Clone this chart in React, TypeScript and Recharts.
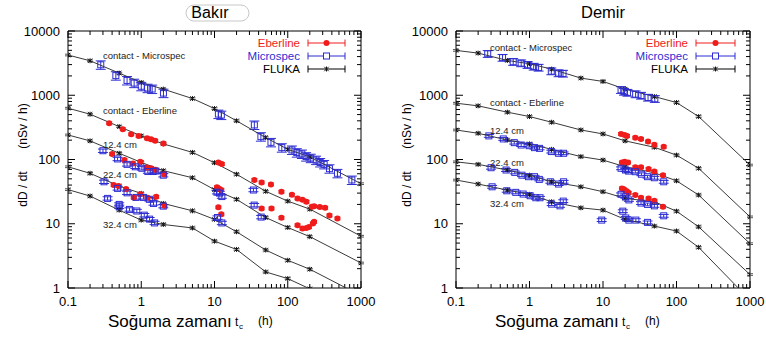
import React from 'react'
import { ScatterChart, Scatter, XAxis, YAxis, ErrorBar, ReferenceArea } from 'recharts'

// FLUKA hesap zamanlari (h)
const flukaT = [0.1, 0.2, 0.5, 1, 2, 5, 10, 20, 50, 100, 200, 1000]

// ---- Bakır ----
const cuFlukaContactMs = [4230, 3440, 2210, 1580, 1245, 889, 620, 400, 219, 144, 110, 42]
const cuFlukaContactEb = [629, 507, 325, 233, 175, 129, 89, 59, 32, 22.5, 16.9, 6.4]
const cuFluka124 = [241, 195, 125, 90, 67, 52, 34, 24, 12.5, 8.75, 6.3, 2.45]
const cuFluka224 = [77, 61, 38.6, 29.7, 20.7, 15.9, 11.7, 7.5, 3.9, 2.7, 1.96, 0.76]
const cuFluka324 = [34, 27, 16.3, 11.4, 9.75, 8.6, 5.36, 3.98, 1.78, 1.4, 0.97, 0.4]

const cuEbContactT = [0.365, 0.56, 0.73, 0.92, 1.2, 1.36, 1.55, 2.01, 11.3, 12.6, 35, 44, 59, 82, 114, 136, 159, 180, 213, 229, 274, 324, 371, 477]
const cuEbContact = [367, 296, 247, 233, 214, 206, 196, 177, 90, 85, 48, 44, 41, 31.5, 28.3, 24.8, 23.6, 22, 18.4, 18.8, 18.2, 17.7, 13.5, 12.1]
const cuEb124T = [0.4, 0.59, 0.77, 0.97, 1.17, 1.36, 1.57, 2.06, 10.8, 11.6, 12.4, 44, 60, 82, 136, 159, 180, 195, 220, 229]
const cuEb124 = [122, 98, 87, 92, 75, 73, 69, 59, 37, 35, 33.5, 17.3, 17.3, 12.4, 9.5, 8.4, 8.6, 8.9, 10.1, 10.7]
const cuEb224T = [0.42, 0.49, 0.62, 0.79, 0.97, 1.22, 1.6, 2.08, 11.3, 12.4]
const cuEb224 = [40, 38.6, 34.6, 25.7, 28.7, 25.4, 26.3, 19, 18, 14]

const cuMsContactT = [0.28, 0.45, 0.64, 0.8, 1.0, 1.22, 1.41, 2.01, 11.3, 12.4, 35, 43, 59, 83, 114, 133, 156, 178, 206, 244, 277, 314, 371, 477, 750]
const cuMsContact = [2980, 2020, 1700, 1545, 1380, 1290, 1250, 1080, 510, 492, 345, 227, 185, 153, 141, 128, 122, 111, 105, 98, 90, 84, 72, 61, 48]
const cuMs124T = [0.3, 0.475, 0.64, 0.83, 1.02, 1.23, 1.45, 1.58, 2.0, 10.8, 11.7, 12.6, 34]
const cuMs124 = [137, 102, 84, 77, 73, 65, 65, 66, 57, 31, 30, 26.5, 33.5]
const cuMs224T = [0.31, 0.475, 0.64, 0.85, 1.07, 1.29, 1.47, 2.0, 11, 12.6, 34.8, 43.4]
const cuMs224 = [45, 35.5, 30.3, 25.7, 25.7, 24, 20.7, 18.8, 12.5, 10.3, 19.5, 12.7]
const cuMs324T = [0.347, 0.5, 0.5, 0.69, 0.87, 1.1, 1.3, 1.52]
const cuMs324 = [24.8, 20, 18.4, 16.7, 15.8, 13.6, 11.8, 10.3]

// ---- Demir ----
const feFlukaContactMs = [4990, 4530, 3480, 3090, 2550, 1850, 1640, 1245, 955, 770, 466, 82]
const feFlukaContactEb = [752, 684, 545, 466, 380, 288, 250, 195, 155, 117, 73, 12.8]
const feFluka124 = [288, 256, 201, 175, 144, 111, 98, 77, 62, 46.6, 28, 4.9]
const feFluka224 = [92, 84, 68.6, 57, 45, 37.6, 31.5, 24.8, 22, 15.7, 8.95, 1.62]
const feFluka324 = [47.9, 41.5, 33.4, 28.7, 22, 17.7, 16.3, 11.7, 9.2, 7.7, 4.3, 0.65]

const feEbContactT = [17.6, 19.7, 21.2, 27.5, 32.9, 41, 50, 67]
const feEbContact = [250, 241, 233, 219, 209, 190, 170, 158]
const feEb124T = [18.1, 19.7, 21.9, 27.5, 32.9, 41.7, 50, 65.5]
const feEb124 = [90, 92, 90, 76, 76, 71, 65, 57]
const feEb224T = [18.1, 19.2, 20.8, 22.3, 27.5, 32.9, 41.7, 50, 65.5]
const feEb224 = [35.5, 34.3, 32.3, 30.3, 28, 25.4, 24.8, 22.8, 18.4]

const feMsContactT = [0.27, 0.43, 0.6, 0.77, 0.94, 1.14, 1.33, 1.98, 2.49, 2.86, 17.6, 19.3, 21.5, 27.8, 32.9, 41, 50.7]
const feMsContact = [4420, 3850, 3320, 3160, 2980, 2800, 2700, 2370, 2210, 2180, 1213, 1140, 1100, 1040, 990, 922, 880]
const feMs124T = [0.28, 0.44, 0.62, 0.77, 0.99, 1.17, 1.37, 1.98, 2.49, 2.91, 17.6, 20.2, 22.3, 27.5, 33.3, 40.4, 50, 67]
const feMs124 = [233, 209, 183, 168, 164, 153, 149, 133, 125, 125, 73, 68.6, 66, 64.6, 59, 54, 52, 45]
const feMs224T = [0.3, 0.48, 0.63, 0.79, 0.97, 1.17, 1.36, 1.92, 2.49, 2.91, 17.6, 20.2, 22.5, 32.9, 40.4, 50]
const feMs224 = [74.5, 68.6, 63, 57, 54, 54, 49, 45, 41.5, 45, 28.7, 26.3, 23.5, 21, 20, 19]
const feMs324T = [0.31, 0.49, 0.65, 0.82, 1.02, 1.22, 1.39, 2.0, 2.6, 2.88, 9.6, 18.6, 20.4, 22.5, 28, 40.4, 67]
const feMs324 = [37.6, 32.6, 30.8, 29, 27.3, 25.4, 25.4, 20.2, 19, 22.5, 11.4, 15.7, 12.3, 11.4, 11.4, 10.5, 13.3]

// relative uncertainties used for the error bars
const msErrCu = [0.15, 0.06, 0.06, 0.06]
const msErrFe = [0.12, 0.05, 0.05, 0.05]
const ebErr = 0.05
const flukaErr = 0.03

const xMajor = [0.1, 1, 10, 100, 1000]
const yMajor = [1, 10, 100, 1000, 10000]
const xTicks = xMajor.slice(0, -1).flatMap((d) => [1, 2, 3, 4, 5, 6, 7, 8, 9].map((m) => m * d)).concat([1000])
const yTicks = yMajor.slice(0, -1).flatMap((d) => [1, 2, 3, 4, 5, 6, 7, 8, 9].map((m) => m * d)).concat([10000])

const FONT = '"Liberation Sans", Arial, Helvetica, sans-serif'
const RED = '#f01c1c'
const BLUE = '#2d2dd2'
const PH = 257

const pts = (t: number[], y: number[], rel: number) =>
  t.map((v, i) => ({ t: v, y: y[i], e: [y[i] * rel, y[i] * rel] }))

function XTick(props: any) {
  const { x, y, payload, ph } = props
  const v = payload.value
  const major = xMajor.includes(v)
  const len = major ? 7 : 4
  return (
    <g>
      <line x1={x} y1={y} x2={x} y2={y - len} stroke="#000" />
      <line x1={x} y1={y - ph} x2={x} y2={y - ph + len} stroke="#000" />
      {major && (
        <text x={x} y={y + 18} textAnchor="middle" fontSize={13} fontFamily={FONT} fill="#000">
          {String(v)}
        </text>
      )}
    </g>
  )
}

function YTick(props: any) {
  const { x, y, payload, pw } = props
  const v = payload.value
  const major = yMajor.includes(v)
  const len = major ? 7 : 4
  return (
    <g>
      <line x1={x} y1={y} x2={x + len} y2={y} stroke="#000" />
      <line x1={x + pw} y1={y} x2={x + pw - len} y2={y} stroke="#000" />
      {major && (
        <text x={x - 8} y={y + 4.5} textAnchor="end" fontSize={13} fontFamily={FONT} fill="#000">
          {String(v)}
        </text>
      )}
    </g>
  )
}

const Star = (p: any) => {
  const { cx, cy } = p
  if (cx == null || cy == null) return <g />
  return (
    <g stroke="#111" strokeWidth={1}>
      <line x1={cx - 2.2} y1={cy - 2.2} x2={cx + 2.2} y2={cy + 2.2} />
      <line x1={cx - 2.2} y1={cy + 2.2} x2={cx + 2.2} y2={cy - 2.2} />
      <line x1={cx} y1={cy - 2.5} x2={cx} y2={cy + 2.5} />
    </g>
  )
}

const Dot = (p: any) => <circle cx={p.cx} cy={p.cy} r={3} fill={RED} />

const Box = (p: any) => (
  <rect x={p.cx - 3} y={p.cy - 3} width={6} height={6} fill="none" stroke={BLUE} strokeWidth={1} />
)

type Panel = {
  left: number
  mLeft: number
  mRight: number
  fluka: number[][]
  eber: number[][][]
  micro: number[][][]
  msErr: number[]
}

function DosePanel({ left, mLeft, mRight, fluka, eber, micro, msErr }: Panel) {
  const pw = 383 - mLeft - 60 - mRight
  const margin = { top: 31, right: mRight, bottom: 20, left: mLeft }
  const xProps: any = { type: 'number', dataKey: 't', scale: 'log', domain: [0.1, 1000], ticks: xTicks, interval: 0, allowDataOverflow: true, axisLine: false, tickLine: false, tickSize: 0, tickMargin: 0, height: 30 }
  const yProps: any = { type: 'number', dataKey: 'y', scale: 'log', domain: [1, 10000], ticks: yTicks, interval: 0, allowDataOverflow: true, axisLine: false, tickLine: false, tickSize: 0, tickMargin: 0, width: 60 }
  return (
    <>
      {/* frame, ticks and tick labels */}
      <div style={{ position: 'absolute', left, top: 0 }}>
        <ScatterChart width={383} height={338} margin={margin}>
          <XAxis {...xProps} tick={(p: any) => <XTick {...p} ph={PH} />} />
          <YAxis {...yProps} tick={(p: any) => <YTick {...p} pw={pw} />} />
          <ReferenceArea x1={0.1} x2={1000} y1={1} y2={10000} fill="none" stroke="#000" strokeWidth={1} ifOverflow="visible" />
        </ScatterChart>
      </div>
      {/* data, cut at the lower edge of the plot */}
      <div style={{ position: 'absolute', left, top: 0, clipPath: 'inset(0px 0px 50px 0px)' }}>
        <ScatterChart width={383} height={338} margin={margin}>
          <XAxis {...xProps} tick={false} />
          <YAxis {...yProps} tick={false} />
          {fluka.map((ys, i) => (
            <Scatter
              key={'f' + i}
              data={pts(flukaT, ys, flukaErr)}
              line={{ stroke: '#3a3a3a', strokeWidth: 1 }}
              lineType="joint"
              shape={Star}
              isAnimationActive={false}
            >
              <ErrorBar dataKey="e" direction="y" width={3} stroke="#555" strokeWidth={1} isAnimationActive={false} />
            </Scatter>
          ))}
          {eber.map(([t, ys], i) => (
            <Scatter key={'e' + i} data={pts(t, ys, ebErr)} shape={Dot} isAnimationActive={false}>
              <ErrorBar dataKey="e" direction="y" width={3} stroke={RED} strokeWidth={1} isAnimationActive={false} />
            </Scatter>
          ))}
          {micro.map(([t, ys], i) => (
            <Scatter key={'m' + i} data={pts(t, ys, msErr[i])} shape={Box} isAnimationActive={false}>
              <ErrorBar dataKey="e" direction="y" width={5} stroke={BLUE} strokeWidth={1} isAnimationActive={false} />
            </Scatter>
          ))}
        </ScatterChart>
      </div>
    </>
  )
}

function LegendRow({ tx, x1, x2, y, label, color, kind }: any) {
  const mx = (x1 + x2) / 2
  return (
    <g>
      <text x={tx} y={y + 4} textAnchor="end" fontSize={11.5} fill={color}>{label}</text>
      <line x1={x1} y1={y} x2={x2} y2={y} stroke={color} />
      <line x1={x1} y1={y - 3.5} x2={x1} y2={y + 3.5} stroke={color} />
      <line x1={x2} y1={y - 3.5} x2={x2} y2={y + 3.5} stroke={color} />
      {kind === 'dot' && <circle cx={mx} cy={y} r={3} fill={color} />}
      {kind === 'box' && <rect x={mx - 3} y={y - 3} width={6} height={6} fill="#fff" stroke={color} />}
      {kind === 'star' && <Star cx={mx} cy={y} />}
    </g>
  )
}

function Notes({ ox, labels }: { ox: number; labels: [string, number][] }) {
  return (
    <g fontSize={9.5} fill="#222">
      {labels.map(([s, y]) => (
        <text key={s} x={ox} y={y + 3.5}>{s}</text>
      ))}
    </g>
  )
}

function AxisTitles({ sx, yx }: { sx: number; yx: number }) {
  return (
    <g fill="#000">
      <text x={sx} y={327} fontSize={17}>Soğuma zamanı</text>
      <text x={sx + 127} y={326} fontSize={12}>t</text>
      <text x={sx + 131} y={329} fontSize={8}>c</text>
      <text x={sx + 150} y={325} fontSize={12}>(h)</text>
      <g transform={`rotate(-90 ${yx} 155)`}>
        <text x={yx - 34} y={155} fontSize={12} textAnchor="middle">dD / dt</text>
        <text x={yx + 29} y={155} fontSize={12} textAnchor="middle">(nSv / h)</text>
      </g>
    </g>
  )
}

export default function App() {
  return (
    <div style={{ position: 'absolute', left: 0, top: 0, width: 766, height: 338, background: '#fff', fontFamily: FONT }}>
      <DosePanel
        left={0}
        mLeft={8}
        mRight={22}
        fluka={[cuFlukaContactMs, cuFlukaContactEb, cuFluka124, cuFluka224, cuFluka324]}
        eber={[[cuEbContactT, cuEbContact], [cuEb124T, cuEb124], [cuEb224T, cuEb224]]}
        micro={[[cuMsContactT, cuMsContact], [cuMs124T, cuMs124], [cuMs224T, cuMs224], [cuMs324T, cuMs324]]}
        msErr={msErrCu}
      />
      <DosePanel
        left={383}
        mLeft={13}
        mRight={16}
        fluka={[feFlukaContactMs, feFlukaContactEb, feFluka124, feFluka224, feFluka324]}
        eber={[[feEbContactT, feEbContact], [feEb124T, feEb124], [feEb224T, feEb224]]}
        micro={[[feMsContactT, feMsContact], [feMs124T, feMs124], [feMs224T, feMs224], [feMs324T, feMs324]]}
        msErr={msErrFe}
      />
      <svg width={766} height={338} style={{ position: 'absolute', left: 0, top: 0, pointerEvents: 'none' }} fontFamily={FONT}>
        <rect x={186} y={5} width={63} height={16} rx={8} fill="#fff" stroke="#c8c8c8" />
        <text x={210} y={18} textAnchor="middle" fontSize={16} fill="#000">Bakır</text>
        <text x={603} y={18} textAnchor="middle" fontSize={16.5} fill="#000">Demir</text>

        <LegendRow tx={300} x1={308} x2={345} y={43} label="Eberline" color={RED} kind="dot" />
        <LegendRow tx={300} x1={308} x2={345} y={56} label="Microspec" color={BLUE} kind="box" />
        <LegendRow tx={300} x1={308} x2={345} y={69} label="FLUKA" color="#000" kind="star" />
        <LegendRow tx={688} x1={696} x2={735} y={43} label="Eberline" color={RED} kind="dot" />
        <LegendRow tx={688} x1={696} x2={735} y={56} label="Microspec" color={BLUE} kind="box" />
        <LegendRow tx={688} x1={696} x2={735} y={69} label="FLUKA" color="#000" kind="star" />

        <Notes ox={103} labels={[['contact - Microspec', 55], ['contact - Eberline', 110], ['12.4 cm', 144], ['22.4 cm', 174], ['32.4 cm', 224]]} />
        <Notes ox={490} labels={[['contact - Microspec', 47], ['contact - Eberline', 102], ['12.4 cm', 130], ['22.4 cm', 162], ['32.4 cm', 203]]} />

        <AxisTitles sx={108} yx={27} />
        <AxisTitles sx={495} yx={411} />
      </svg>
    </div>
  )
}
